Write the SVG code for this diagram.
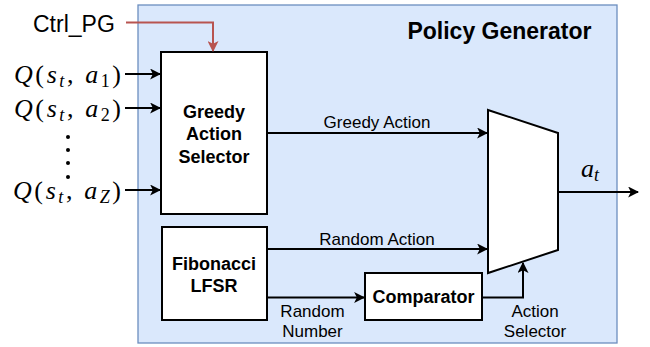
<svg xmlns="http://www.w3.org/2000/svg" width="650" height="347" viewBox="0 0 650 347">
  <defs>
    <style>
      .frame { fill: #dae8fc; stroke: #6c8ebf; stroke-width: 1.3; }
      .block { fill: #ffffff; stroke: #000000; stroke-width: 2; }
      .wire { fill: none; stroke: #000000; stroke-width: 2; }
      .ctrl { fill: none; stroke: #b85450; stroke-width: 2; }
      .bold { font-family: "Liberation Sans", Arial, sans-serif; font-weight: bold; font-size: 18px; fill: #000; text-anchor: middle; }
      .lbl { font-family: "Liberation Sans", Arial, sans-serif; font-size: 17px; fill: #000; text-anchor: middle; }
      .math { font-family: "Liberation Serif", "Times New Roman", serif; font-size: 26px; fill: #000; }
      .it { font-style: italic; }
      .sub { font-size: 18px; }
    </style>
    <marker id="arrow" viewBox="0 0 10 10" refX="9" refY="5" markerWidth="5.5" markerHeight="5.5" orient="auto" markerUnits="strokeWidth">
      <path d="M0,0 L10,5 L0,10 L2.5,5 Z" fill="#000"/>
    </marker>
    <marker id="arrowRed" viewBox="0 0 10 10" refX="9" refY="5" markerWidth="5.5" markerHeight="5.5" orient="auto" markerUnits="strokeWidth">
      <path d="M0,0 L10,5 L0,10 L2.5,5 Z" fill="#b85450"/>
    </marker>
  </defs>

  <!-- enclosing block -->
  <g id="policy-generator">
    <rect class="frame" x="138" y="5" width="479" height="338"/>
    <text class="bold" x="499.5" y="39" style="font-size:23px">Policy Generator</text>
  </g>

  <!-- external input labels -->
  <g id="ctrl-pg">
    <text x="33" y="32" style="font-family:'Liberation Sans',Arial,sans-serif;font-size:23px">Ctrl_PG</text>
  </g>
  <g id="q-inputs">
    <text class="math" x="14" y="83" textLength="107" lengthAdjust="spacing"><tspan class="it">Q</tspan>(<tspan class="it">s</tspan><tspan class="it sub" dy="4">t</tspan><tspan dy="-4">, </tspan><tspan class="it">a</tspan><tspan class="sub" dy="4">1</tspan><tspan dy="-4">)</tspan></text>
    <text class="math" x="14" y="117" textLength="107" lengthAdjust="spacing"><tspan class="it">Q</tspan>(<tspan class="it">s</tspan><tspan class="it sub" dy="4">t</tspan><tspan dy="-4">, </tspan><tspan class="it">a</tspan><tspan class="sub" dy="4">2</tspan><tspan dy="-4">)</tspan></text>
    <text class="math" x="13" y="199" textLength="108" lengthAdjust="spacing"><tspan class="it">Q</tspan>(<tspan class="it">s</tspan><tspan class="it sub" dy="4">t</tspan><tspan dy="-4">, </tspan><tspan class="it">a</tspan><tspan class="it sub" dy="4">Z</tspan><tspan dy="-4">)</tspan></text>
    <g fill="#000">
      <circle cx="68" cy="137" r="2"/>
      <circle cx="68" cy="150" r="2"/>
      <circle cx="68" cy="163" r="2"/>
      <circle cx="68" cy="177" r="2"/>
    </g>
  </g>

  <g id="greedy-action-selector">
    <rect class="block" x="161" y="52" width="106" height="162"/>
    <text class="bold" x="214" y="118">Greedy</text>
    <text class="bold" x="214" y="140">Action</text>
    <text class="bold" x="214" y="163">Selector</text>
  </g>

  <g id="fibonacci-lfsr">
    <rect class="block" x="162" y="227" width="105" height="93"/>
    <text class="bold" x="214" y="270">Fibonacci</text>
    <text class="bold" x="214" y="292">LFSR</text>
  </g>

  <g id="comparator">
    <rect class="block" x="365" y="273" width="117" height="47"/>
    <text class="bold" x="423.5" y="303">Comparator</text>
  </g>

  <g id="multiplexer">
    <polygon class="block" points="488,110 558,133 558,250 488,273"/>
  </g>

  <!-- connectors -->
  <g id="connectors">
    <path class="ctrl" d="M126,22.5 H213 V51" marker-end="url(#arrowRed)"/>
    <path class="wire" d="M125,74 H160" marker-end="url(#arrow)"/>
    <path class="wire" d="M125,108 H160" marker-end="url(#arrow)"/>
    <path class="wire" d="M125,190 H160" marker-end="url(#arrow)"/>
    <path class="wire" d="M267,133 H487" marker-end="url(#arrow)"/>
    <path class="wire" d="M267,249 H487" marker-end="url(#arrow)"/>
    <path class="wire" d="M267,297.5 H364" marker-end="url(#arrow)"/>
    <path class="wire" d="M482,297.5 H523 V263" marker-end="url(#arrow)"/>
    <path class="wire" d="M558,192 H638" marker-end="url(#arrow)"/>
  </g>

  <!-- connector labels -->
  <g id="connector-labels">
    <text class="lbl" x="377" y="128">Greedy Action</text>
    <text class="lbl" x="377" y="245">Random Action</text>
    <text class="lbl" x="312.5" y="317">Random</text>
    <text class="lbl" x="312.5" y="337">Number</text>
    <text class="lbl" x="535" y="317">Action</text>
    <text class="lbl" x="535" y="337">Selector</text>
    <text class="math" x="581" y="177"><tspan class="it">a</tspan><tspan class="it sub" dy="4">t</tspan></text>
  </g>
</svg>
